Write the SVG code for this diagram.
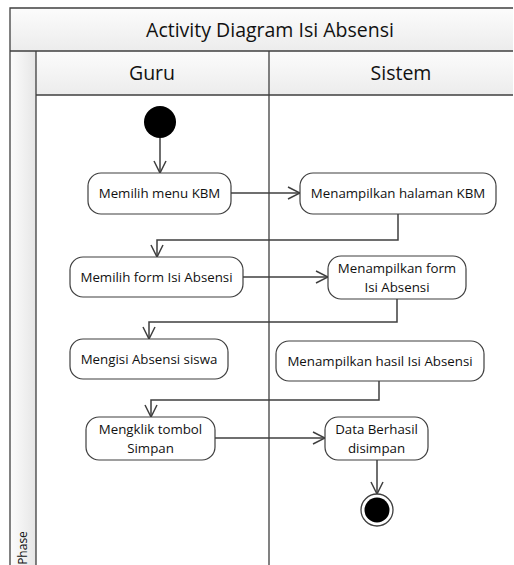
<svg xmlns="http://www.w3.org/2000/svg" width="514" height="565" viewBox="0 0 514 565">
<style>
.frame{fill:none;stroke:#3f3f3f;stroke-width:1.3}
.node{fill:#fff;stroke:#3f3f3f;stroke-width:1.2}
.t{font-family:"Open Sans","Noto Sans",sans-serif;font-size:13.3px;fill:#111;text-anchor:middle}
.h{font-family:"Open Sans","Noto Sans",sans-serif;font-size:19.5px;fill:#111;text-anchor:middle}
.c{fill:none;stroke:#3f3f3f;stroke-width:1.5;marker-end:url(#arr)}
</style>
<defs>
<marker id="arr" viewBox="0 0 14 14" refX="13" refY="7" markerWidth="14" markerHeight="14" markerUnits="userSpaceOnUse" orient="auto">
<path d="M1,1 L13,7 L1,13" fill="none" stroke="#3f3f3f" stroke-width="1.5"/>
</marker>
<linearGradient id="gv" x1="0" y1="0" x2="0" y2="1">
<stop offset="0" stop-color="#fcfcfc"/><stop offset="1" stop-color="#ececec"/>
</linearGradient>
<linearGradient id="gh" x1="0" y1="0" x2="1" y2="0">
<stop offset="0" stop-color="#fcfcfc"/><stop offset="1" stop-color="#e6e6e6"/>
</linearGradient>
</defs>
<rect x="0" y="0" width="514" height="565" fill="#fff"/>
<g id="frame">
<rect x="10" y="8" width="503" height="43" fill="url(#gv)"/>
<rect x="10" y="51" width="26" height="514" fill="url(#gh)"/>
<rect x="36" y="51" width="477" height="44" fill="url(#gv)"/>
<path class="frame" d="M10,565 V8 H513 M10,51 H513 M36,51 V565 M36,95 H513 M269,51 V565"/>
<text class="h" x="270" y="37">Activity Diagram Isi Absensi</text>
<text class="h" x="152" y="80">Guru</text>
<text class="h" x="401" y="80">Sistem</text>
<text class="t" transform="translate(27,548) rotate(-90)" style="font-size:12px">Phase</text>
</g>
<g id="connectors">
<path class="c" d="M160,138 V173"/>
<path class="c" d="M231,193 H300"/>
<path class="c" d="M398,214 V240 H157 V257"/>
<path class="c" d="M243,277 H328"/>
<path class="c" d="M397,299 V322 H149 V339"/>
<path class="c" d="M379,381 V400 H151 V417"/>
<path class="c" d="M215,438 H325"/>
<path class="c" d="M377,460 V494"/>
</g>
<g id="start"><circle cx="160" cy="122" r="16" fill="#000"/></g>
<g id="n1"><rect class="node" x="88" y="173" width="143" height="41" rx="13"/><text class="t" x="159.5" y="198">Memilih menu KBM</text></g>
<g id="n2"><rect class="node" x="300" y="173" width="196" height="41" rx="13"/><text class="t" x="398" y="198">Menampilkan halaman KBM</text></g>
<g id="n3"><rect class="node" x="70" y="257" width="173" height="40" rx="13"/><text class="t" x="156.5" y="282">Memilih form Isi Absensi</text></g>
<g id="n4"><rect class="node" x="328" y="256" width="138" height="43" rx="13"/><text class="t" x="397" y="273">Menampilkan form</text><text class="t" x="397" y="291.5">Isi Absensi</text></g>
<g id="n5"><rect class="node" x="70" y="339" width="158" height="40" rx="13"/><text class="t" x="149" y="364">Mengisi Absensi siswa</text></g>
<g id="n6"><rect class="node" x="276" y="341" width="208" height="40" rx="13"/><text class="t" x="380" y="366">Menampilkan hasil Isi Absensi</text></g>
<g id="n7"><rect class="node" x="86" y="417" width="129" height="43" rx="13"/><text class="t" x="150.5" y="434">Mengklik tombol</text><text class="t" x="150.5" y="452.5">Simpan</text></g>
<g id="n8"><rect class="node" x="325" y="417" width="103" height="43" rx="13"/><text class="t" x="376.5" y="434">Data Berhasil</text><text class="t" x="376.5" y="452.5">disimpan</text></g>
<g id="end"><circle cx="377" cy="510" r="16" fill="#fff" stroke="#3f3f3f" stroke-width="1.3"/><circle cx="377" cy="510" r="12.5" fill="#000"/></g>
</svg>
